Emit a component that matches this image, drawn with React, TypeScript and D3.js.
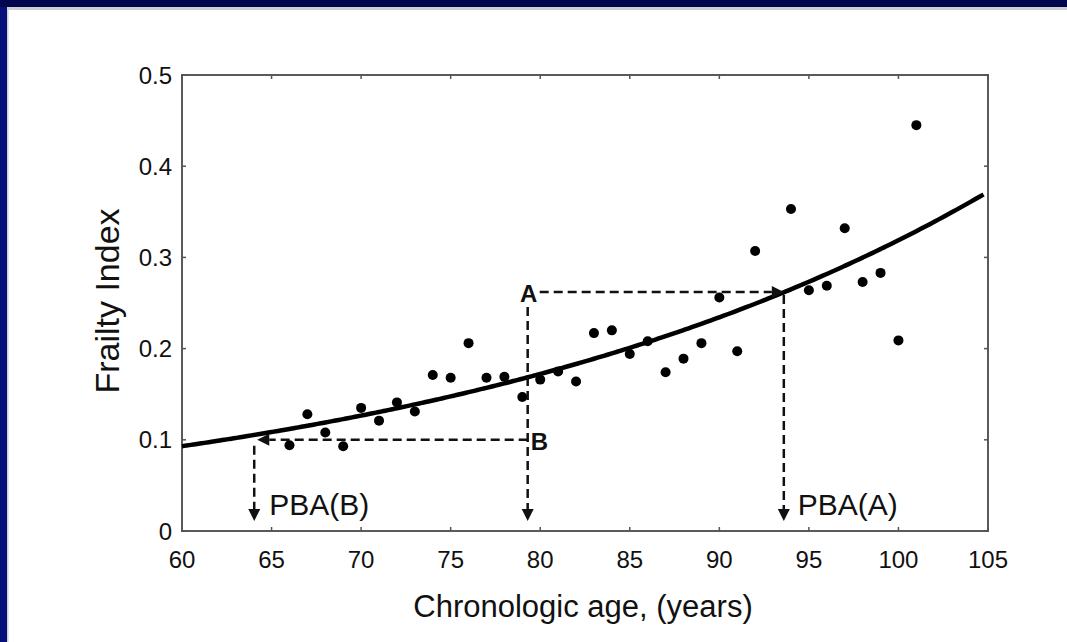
import React, { useEffect } from "react";
import * as d3 from "d3";

// Observed frailty index by chronologic age
const ages = [66, 67, 68, 69, 70, 71, 72, 73, 74, 75, 76, 77, 78, 79, 80, 81, 82, 83, 84, 85, 86, 87, 88, 89, 90, 91, 92, 94, 95, 96, 97, 98, 99, 100, 101];
const frailty = [0.094, 0.128, 0.108, 0.093, 0.135, 0.121, 0.141, 0.131, 0.171, 0.168, 0.206, 0.168, 0.169, 0.147, 0.166, 0.175, 0.164, 0.217, 0.22, 0.194, 0.208, 0.174, 0.189, 0.206, 0.256, 0.197, 0.307, 0.353, 0.264, 0.269, 0.332, 0.273, 0.283, 0.209, 0.445];

// Exponential fit: FI = FIT_BASE * exp(FIT_RATE * (age - 60))
const FIT_BASE = 0.093;
const FIT_RATE = 0.0308;
const FIT_RANGE = [60, 104.9];

const xTicks = [60, 65, 70, 75, 80, 85, 90, 95, 100, 105];
const yTicks = [0, 0.1, 0.2, 0.3, 0.4, 0.5];
const yTickLabels = ["0", "0.1", "0.2", "0.3", "0.4", "0.5"];

// Physiological-age construction
const chronoAge = 79.3;
const fiA = 0.262;
const fiB = 0.1;
const pbaA = 93.6;
const pbaB = 64.2;
const arrowFloor = 0.011;

const W = 1067;
const H = 642;
const FONT = "'Liberation Sans', Arial, Helvetica, sans-serif";

export default function App() {
  useEffect(() => {
    document.body.style.margin = "0";
  }, []);

  const x = d3.scaleLinear().domain([60, 105]).range([182, 988]);
  const y = d3.scaleLinear().domain([0, 0.5]).range([531, 75]);

  const fitPts = d3.range(FIT_RANGE[0], FIT_RANGE[1] + 0.001, 0.25).map((a) => [a, FIT_BASE * Math.exp(FIT_RATE * (a - 60))] as [number, number]);
  const fitLine = d3.line<[number, number]>().x((d) => x(d[0])).y((d) => y(d[1])).curve(d3.curveMonotoneX);

  const AL = 12; // arrowhead length
  const AW = 6; // arrowhead half-width
  const dash = "9 5";
  const stroke = "#111";

  const down = (cx: number, tip: number) => `M${cx},${tip} L${cx - AW},${tip - AL} L${cx + AW},${tip - AL} Z`;
  const right = (tip: number, cy: number) => `M${tip},${cy} L${tip - AL},${cy - AW} L${tip - AL},${cy + AW} Z`;
  const left = (tip: number, cy: number) => `M${tip},${cy} L${tip + AL},${cy - AW} L${tip + AL},${cy + AW} Z`;

  const xC = x(chronoAge);
  const xA = x(pbaA);
  const xB = x(pbaB);
  const yA = y(fiA);
  const yB = y(fiB);
  const yF = y(arrowFloor);

  return (
    <svg width={W} height={H} style={{ position: "absolute", left: 0, top: 0, display: "block" }} fontFamily={FONT}>
      <rect x={0} y={0} width={W} height={H} fill="#00074f" />
      <rect x={0} y={7} width={7} height={H - 7} fill="#07107a" />
      <rect x={7} y={7} width={W - 7} height={H - 7} fill="#ffffff" />
      <rect x={7} y={7} width={W - 7} height={3} fill="#cfcfcf" />
      <rect x={7} y={7} width={1.5} height={H - 7} fill="#cfcfcf" />

      {/* plot frame */}
      <rect x={x(60)} y={y(0.5)} width={x(105) - x(60)} height={y(0) - y(0.5)} fill="none" stroke="#5a5a5a" strokeWidth={2} />
      {xTicks.map((t) => (
        <g key={"xt" + t}>
          <line x1={x(t)} x2={x(t)} y1={y(0)} y2={y(0) - 4} stroke="#555" strokeWidth={1.5} />
          <line x1={x(t)} x2={x(t)} y1={y(0.5)} y2={y(0.5) + 4} stroke="#555" strokeWidth={1.5} />
          <text x={x(t)} y={568} fontSize={24} textAnchor="middle" fill="#111">{t}</text>
        </g>
      ))}
      {yTicks.map((t, i) => (
        <g key={"yt" + t}>
          <line x1={x(60)} x2={x(60) + 4} y1={y(t)} y2={y(t)} stroke="#555" strokeWidth={1.5} />
          <line x1={x(105)} x2={x(105) - 4} y1={y(t)} y2={y(t)} stroke="#555" strokeWidth={1.5} />
          <text x={172} y={y(t)} dy="0.36em" fontSize={24} textAnchor="end" fill="#111">{yTickLabels[i]}</text>
        </g>
      ))}

      <text x={583} y={617} fontSize={31} textAnchor="middle" fill="#111">Chronologic age, (years)</text>
      <text transform="translate(119,301) rotate(-90)" fontSize={34} textAnchor="middle" fill="#111">Frailty Index</text>

      {/* observations */}
      {ages.map((a, i) => (
        <circle key={"p" + a} cx={x(a)} cy={y(frailty[i])} r={5} fill="#000" />
      ))}

      {/* fitted curve */}
      <path d={fitLine(fitPts) ?? ""} fill="none" stroke="#000" strokeWidth={4.5} />

      {/* construction for A */}
      <line x1={xC + 12} x2={xA - AL} y1={yA} y2={yA} stroke={stroke} strokeWidth={2.5} strokeDasharray={dash} />
      <path d={right(xA, yA)} fill={stroke} />
      <line x1={xA} x2={xA} y1={yA + 3} y2={yF - AL} stroke={stroke} strokeWidth={2.5} strokeDasharray={dash} />
      <path d={down(xA, yF)} fill={stroke} />
      <line x1={xC} x2={xC} y1={yA + 15} y2={yF - AL} stroke={stroke} strokeWidth={2.5} strokeDasharray={dash} />
      <path d={down(xC, yF)} fill={stroke} />
      <text x={xC + 1} y={yA + 10} fontSize={24} fontWeight="bold" textAnchor="middle" fill="#111">A</text>

      {/* construction for B */}
      <line x1={xC} x2={xB + AL} y1={yB} y2={yB} stroke={stroke} strokeWidth={2.5} strokeDasharray={dash} />
      <path d={left(xB, yB)} fill={stroke} />
      <line x1={xB - 3} x2={xB - 3} y1={yB + 6} y2={yF - AL} stroke={stroke} strokeWidth={2.5} strokeDasharray={dash} />
      <path d={down(xB - 3, yF)} fill={stroke} />
      <text x={xC + 3} y={yB + 10} fontSize={24} fontWeight="bold" fill="#111">B</text>

      <text x={xB + 12} y={515} fontSize={30} fill="#111">PBA(B)</text>
      <text x={xA + 14} y={515} fontSize={30} fill="#111">PBA(A)</text>
    </svg>
  );
}
